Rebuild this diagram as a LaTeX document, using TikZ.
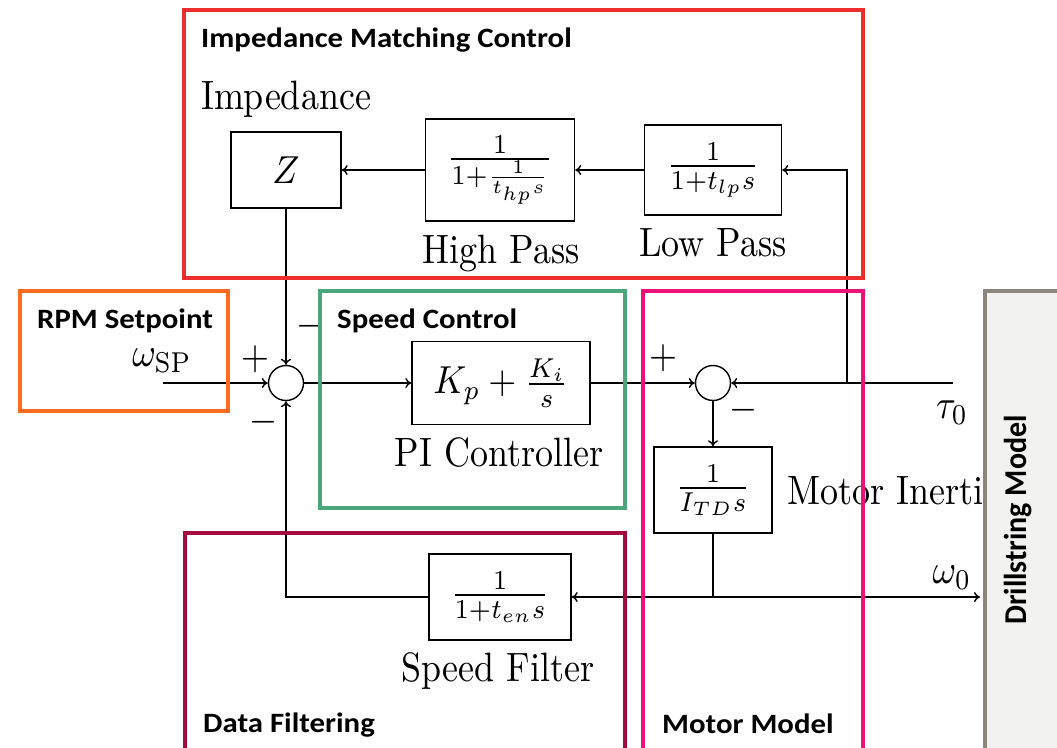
\documentclass[tikz,border=0pt]{standalone}
\usepackage{graphicx}
\usepackage{fontspec}
\newfontfamily\lblfont{Carlito}
\usetikzlibrary{arrows.meta}
\definecolor{cred}{HTML}{EE2E2E}
\definecolor{corange}{HTML}{FF6A21}
\definecolor{cgreen}{HTML}{4AA77C}
\definecolor{cmaroon}{HTML}{A50A3E}
\definecolor{cpink}{HTML}{EC1277}
\definecolor{cgrayb}{HTML}{8C877D}
\definecolor{cgrayf}{HTML}{F2F2F0}
\newcommand{\cmsz}[1]{\scalebox{3.6}[4.1]{#1}}
\newcommand{\cmbx}[1]{\scalebox{3.6}[3.9]{#1}}
\newcommand{\ttl}[1]{\scalebox{1.1}[1]{#1}}
\begin{document}
\begin{tikzpicture}[x=1pt,y=-1pt,
  blk/.style={draw, line width=1.4pt, inner sep=0pt},
  lbl/.style={inner sep=0pt, anchor=base},
  sgn/.style={inner sep=0pt},
  grp/.style={line width=4pt},
  grptitle/.style={font=\lblfont\bfseries\fontsize{28}{34}\selectfont, inner sep=0pt, anchor=base west},
  sumnode/.style={draw, circle, line width=1.4pt, minimum size=35pt, inner sep=0pt},
  wire/.style={line width=1.4pt},
  arr/.style={wire, -{To[length=6pt,width=10pt]}}]
\clip (0,0) rectangle (1057,747);
\fill[white] (0,0) rectangle (1057,747);

% blocks
\node[blk, minimum width=110pt, minimum height=76pt] (Z) at (286,170) {\cmbx{$Z$}};
\node[blk, minimum width=149pt, minimum height=102pt] (HP) at (500,170) {\cmbx{$\frac{1}{1+\frac{1}{t_{hp}s}}$}};
\node[blk, minimum width=137pt, minimum height=90pt] (LP) at (713,170) {\cmbx{$\frac{1}{1+t_{lp}s}$}};
\node[blk, minimum width=178pt, minimum height=83pt] (PI) at (501,383) {\cmbx{$K_p+\frac{K_i}{s}$}};
\node[sumnode] (S1) at (286,383) {};
\node[sumnode] (S2) at (713,383) {};
\node[blk, minimum width=118pt, minimum height=86pt] (IN) at (713,490) {\cmbx{$\frac{1}{I_{TD}s}$}};
\node[blk, minimum width=142pt, minimum height=86pt] (SF) at (500,597) {\cmbx{$\frac{1}{1+t_{en}s}$}};

% labels
\node[lbl] (lImp) at (286,109) {\cmsz{Impedance}};
\node[lbl] (lHP) at (501,263) {\cmsz{High Pass}};
\node[lbl] (lLP) at (713,256) {\cmsz{Low Pass}};
\node[lbl] (lPI) at (499,466) {\cmsz{PI Controller}};
\node[lbl] (lSF) at (498,681) {\cmsz{Speed Filter}};
\node[lbl, anchor=base west] (lMI) at (787,504) {\cmsz{Motor Inertia}};
\node[lbl] (wsp) at (162,366) {\cmsz{$\omega_{\mathrm{SP}}$}};
\node[lbl] (tau) at (952,418) {\cmsz{$\tau_0$}};
\node[lbl] (w0) at (952,583) {\cmsz{$\omega_0$}};
\node[sgn] (p1) at (255,359) {\cmsz{$+$}};
\node[sgn] (m1) at (263,422) {\cmsz{$-$}};
\node[sgn] (m2) at (310,326) {\cmsz{$-$}};
\node[sgn] (p2) at (663,358) {\cmsz{$+$}};
\node[sgn] (m3) at (743,410) {\cmsz{$-$}};

% connectors
\coordinate (in) at (163,383);
\coordinate (tauin) at (953,383);
\coordinate (br) at (847,383);
\coordinate (wout) at (980,597);
\draw[arr] (in) -- (S1);
\draw[arr] (Z.south) -- (S1.north);
\draw[arr] (S1) -- (PI);
\draw[arr] (PI) -- (S2);
\draw[arr] (tauin) -- (S2);
\draw[arr] (br) |- (LP.east);
\draw[arr] (LP) -- (HP);
\draw[arr] (HP) -- (Z);
\draw[arr] (S2) -- (IN);
\draw[arr] (IN.south) |- (SF.east);
\draw[arr] (IN.south) |- (wout);
\draw[arr] (SF.west) -| (S1.south);

% group frames
\draw[grp,cred] (184,10) rectangle (863,278);
\draw[grp,corange] (20,291) rectangle (228,411);
\draw[grp,cgreen] (320,291) rectangle (625,508);
\draw[grp,cmaroon] (185,533) rectangle (625,770);
\draw[grp,cpink] (643,291) rectangle (863,770);

\node[grptitle] (tIMC) at (201,47) {\ttl{Impedance Matching Control}};
\node[grptitle] (tRPM) at (37,328) {\ttl{RPM Setpoint}};
\node[grptitle] (tSC) at (337,328) {\ttl{Speed Control}};
\node[grptitle] (tDF) at (203,732) {\ttl{Data Filtering}};
\node[grptitle] (tMM) at (662,733) {\ttl{Motor Model}};

% drillstring model
\draw[grp, draw=cgrayb, fill=cgrayf] (985,291) rectangle (1075,770);
\node[font=\lblfont\bfseries\fontsize{30}{36}\selectfont, inner sep=0pt, rotate=90] (tDS) at (1018,520) {\scalebox{1}[1.06]{Drillstring Model}};
\end{tikzpicture}
\end{document}
